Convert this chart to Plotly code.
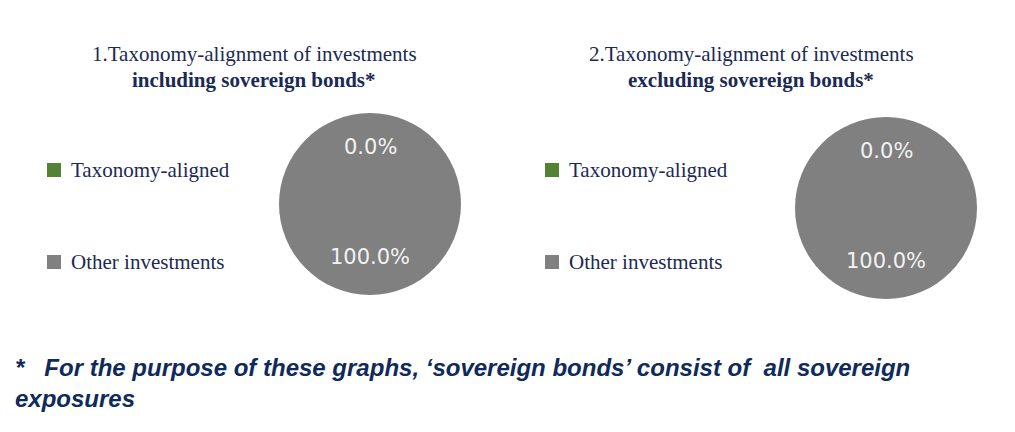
import plotly.graph_objects as go

categories = ["Taxonomy-aligned", "Other investments"]
incl_values = [0.0, 100.0]
excl_values = [0.0, 100.0]
colors = ["#548235", "#808080"]
titles = [
    ("1.Taxonomy-alignment of investments", "including sovereign bonds*"),
    ("2.Taxonomy-alignment of investments", "excluding sovereign bonds*"),
]
footnote = "*   For the purpose of these graphs, \u2018sovereign bonds\u2019 consist of  all sovereign<br>exposures"

# page body has an 8px margin; figure is sized to fit the window
OX, OY = 8, 8
W, H = 1015 - OX, 432 - OY
navy = "#1B2A55"


def px(x):
    return (x - OX) / W


def py(y):
    return 1 - (y - OY) / H


fig = go.Figure()

pies = [
    dict(values=incl_values, cx=370, cy=204, r=91, title_x=254, leg_x=47),
    dict(values=excl_values, cx=886, cy=208, r=91, title_x=751, leg_x=545),
]

for i, p in enumerate(pies):
    fig.add_trace(go.Pie(
        labels=categories, values=p["values"], sort=False, direction="clockwise",
        rotation=0, marker=dict(colors=colors, line=dict(width=0)),
        textinfo="none", hoverinfo="label+percent", showlegend=False,
        domain=dict(x=[px(p["cx"] - p["r"]), px(p["cx"] + p["r"])],
                    y=[py(p["cy"] + p["r"]), py(p["cy"] - p["r"])]),
    ))
    total = sum(p["values"])
    offsets = [-57, 53]
    for v, off in zip(p["values"], offsets):
        fig.add_annotation(
            x=px(p["cx"]), y=py(p["cy"] + off), xref="paper", yref="paper",
            text=f"{v / total * 100:.1f}%", showarrow=False,
            font=dict(family="DejaVu Sans", size=21, color="#F2F2F2"),
            xanchor="center", yanchor="middle")
    t1, t2 = titles[i]
    fig.add_annotation(x=px(p["title_x"]), y=py(54), xref="paper", yref="paper",
                       text=t1, showarrow=False, xanchor="center", yanchor="middle",
                       font=dict(family="Liberation Serif", size=21, color=navy))
    fig.add_annotation(x=px(p["title_x"]), y=py(80), xref="paper", yref="paper",
                       text=f"<b>{t2}</b>", showarrow=False, xanchor="center", yanchor="middle",
                       font=dict(family="Liberation Serif", size=21, color=navy))
    for j, (cat, col) in enumerate(zip(categories, colors)):
        ly = 170 if j == 0 else 262
        fig.add_shape(type="rect", xref="paper", yref="paper",
                      x0=px(p["leg_x"]), x1=px(p["leg_x"] + 14),
                      y0=py(ly + 7), y1=py(ly - 7),
                      fillcolor=col, line=dict(width=0))
        fig.add_annotation(x=px(p["leg_x"] + 22), y=py(ly), xref="paper", yref="paper",
                           text=cat, showarrow=False, xanchor="left", yanchor="middle",
                           font=dict(family="Liberation Serif", size=21, color=navy))

fig.add_annotation(x=px(13), y=py(352), xref="paper", yref="paper",
                   text=f"<b><i>{footnote}</i></b>", showarrow=False,
                   xanchor="left", yanchor="top", align="left",
                   font=dict(family="Liberation Sans", size=24, color="#0F2A5C"))

fig.update_layout(width=W, height=H, margin=dict(l=0, r=0, t=0, b=0),
                  paper_bgcolor="white", plot_bgcolor="white")

fig.write_html("out.html")
